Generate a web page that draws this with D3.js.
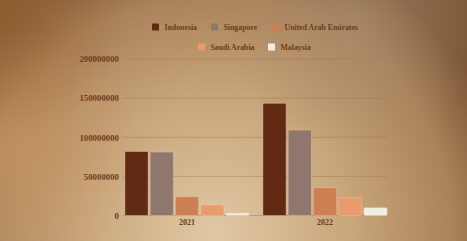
<!DOCTYPE html>
<html>
<head>
<meta charset="utf-8">
<script src="https://cdn.jsdelivr.net/npm/d3@7"></script>
<style>
  body { margin: 0; }
  svg { display: block; }
</style>
</head>
<body>
<div id="chart"></div>
<script>
var years = ["2021", "2022"]
var countries = ["Indonesia", "Singapore", "United Arab Emirates", "Saudi Arabia", "Malaysia"]
var indonesia = [81800000, 143300000]
var singapore = [81000000, 109200000]
var uae = [24100000, 35600000]
var saudi = [13500000, 22800000]
var malaysia = [3200000, 10000000]
var yTicks = [0, 50000000, 100000000, 150000000, 200000000]

var COLORS = ["#612a12", "#8f776e", "#cc8053", "#e99b6d", "#efede4"]
var W = 467, H = 241
var PLOT = {LEFT: 123, RIGHT: 387, TOP: 59, BOTTOM: 215.5}

var series = [indonesia, singapore, uae, saudi, malaysia]
var table = years.map(function(y, i){
  var row = {year: y}
  countries.forEach(function(c, k){ row[c] = series[k][i] })
  return row
})

var svg = d3.select("#chart").append("svg")
  .attr("width", W)
  .attr("height", H)

var defs = svg.append("defs")
var bg = defs.append("radialGradient")
  .attr("id", "bg")
  .attr("gradientUnits", "userSpaceOnUse")
  .attr("cx", 215).attr("cy", 235).attr("r", 300)
bg.append("stop").attr("offset", "0%").attr("stop-color", "#e0c9a5")
bg.append("stop").attr("offset", "45%").attr("stop-color", "#c9a67b")
bg.append("stop").attr("offset", "80%").attr("stop-color", "#a98258")
bg.append("stop").attr("offset", "100%").attr("stop-color", "#7b5535")

// warmer orange on the left side
var lf = defs.append("radialGradient")
  .attr("id", "lf")
  .attr("gradientUnits", "userSpaceOnUse")
  .attr("cx", 20).attr("cy", 150).attr("r", 120)
lf.append("stop").attr("offset", "0%").attr("stop-color", "#c49460").attr("stop-opacity", 0.7)
lf.append("stop").attr("offset", "100%").attr("stop-color", "#c49460").attr("stop-opacity", 0)

// darker corner at top left
var tl = defs.append("radialGradient")
  .attr("id", "tl")
  .attr("gradientUnits", "userSpaceOnUse")
  .attr("cx", 0).attr("cy", 10).attr("r", 130)
tl.append("stop").attr("offset", "0%").attr("stop-color", "#935f2e").attr("stop-opacity", 0.8)
tl.append("stop").attr("offset", "100%").attr("stop-color", "#a87440").attr("stop-opacity", 0)

// greyish glow top right
var tr = defs.append("radialGradient")
  .attr("id", "tr")
  .attr("gradientUnits", "userSpaceOnUse")
  .attr("cx", 360).attr("cy", 20).attr("r", 130)
tr.append("stop").attr("offset", "0%").attr("stop-color", "#ab8f73").attr("stop-opacity", 0.6)
tr.append("stop").attr("offset", "100%").attr("stop-color", "#ab8f73").attr("stop-opacity", 0)

svg.append("rect").attr("width", W).attr("height", H).attr("fill", "url(#bg)")
svg.append("rect").attr("width", W).attr("height", H).attr("fill", "url(#lf)")
svg.append("rect").attr("width", W).attr("height", H).attr("fill", "url(#tl)")
svg.append("rect").attr("width", W).attr("height", H).attr("fill", "url(#tr)")

var FONT = "'Liberation Serif', serif"
var TEXT_COLOR = "#6e3c1d"

var y = d3.scaleLinear()
  .domain([0, 200000000])
  .range([PLOT.BOTTOM, PLOT.TOP])

var x0 = d3.scaleBand()
  .domain(years)
  .range([118, 394])
  .paddingInner(0.1)
  .paddingOuter(0.05)

var x1 = d3.scaleBand()
  .domain(countries)
  .range([0, x0.bandwidth()])
  .paddingInner(0.08)

var color = d3.scaleOrdinal().domain(countries).range(COLORS)

// gridlines
svg.append("g")
  .selectAll("line")
  .data(yTicks)
  .enter()
  .append("line")
  .attr("x1", PLOT.LEFT)
  .attr("x2", PLOT.RIGHT)
  .attr("y1", function(d){ return y(d) })
  .attr("y2", function(d){ return y(d) })
  .style("stroke", "#a47b55")
  .style("stroke-opacity", 0.5)
  .style("stroke-width", 1)

var yAxis = d3.axisLeft(y).tickValues(yTicks).tickSize(0).tickPadding(4)
  .tickFormat(function(d){ return d })
var gy = svg.append("g")
  .attr("transform", "translate(" + PLOT.LEFT + ",0)")
  .call(yAxis)
gy.select(".domain").remove()
gy.selectAll("text")
  .style("font-family", FONT)
  .style("font-size", "8.8px")
  .style("font-weight", "bold")
  .style("fill", TEXT_COLOR)

var xAxis = d3.axisBottom(x0).tickSize(0).tickPadding(4)
var gx = svg.append("g")
  .attr("transform", "translate(0," + PLOT.BOTTOM + ")")
  .call(xAxis)
gx.select(".domain").remove()
gx.selectAll("text")
  .style("font-family", FONT)
  .style("font-size", "8px")
  .style("font-weight", "bold")
  .style("fill", TEXT_COLOR)

// bars
var groups = svg.append("g")
  .selectAll("g")
  .data(table)
  .enter()
  .append("g")
  .attr("transform", function(d){ return "translate(" + x0(d.year) + ",0)" })

groups.selectAll("rect")
  .data(function(d){ return countries.map(function(c){ return {key: c, value: d[c]} }) })
  .enter()
  .append("rect")
  .attr("x", function(d){ return x1(d.key) })
  .attr("y", function(d){ return y(d.value) })
  .attr("width", x1.bandwidth())
  .attr("height", function(d){ return PLOT.BOTTOM - y(d.value) })
  .attr("rx", 1)
  .style("fill", function(d){ return color(d.key) })
  .style("stroke", "#e9d2b0")
  .style("stroke-opacity", 0.5)
  .style("stroke-width", 0.8)

// legend
var legendPos = [
  {x: 152, y: 27}, {x: 211, y: 27}, {x: 272, y: 27},
  {x: 198, y: 47}, {x: 268, y: 47}
]
var legend = svg.append("g")
  .selectAll("g")
  .data(countries)
  .enter()
  .append("g")
  .attr("transform", function(d, i){ return "translate(" + legendPos[i].x + "," + legendPos[i].y + ")" })

legend.append("rect")
  .attr("x", 0)
  .attr("y", -3.5)
  .attr("width", 7)
  .attr("height", 7)
  .style("fill", function(d){ return color(d) })

legend.append("text")
  .attr("x", 12.5)
  .attr("y", 0)
  .attr("dy", "0.35em")
  .text(function(d){ return d })
  .style("font-family", FONT)
  .style("font-size", "7.8px")
  .style("font-weight", "bold")
  .style("fill", TEXT_COLOR)
</script>
</body>
</html>
